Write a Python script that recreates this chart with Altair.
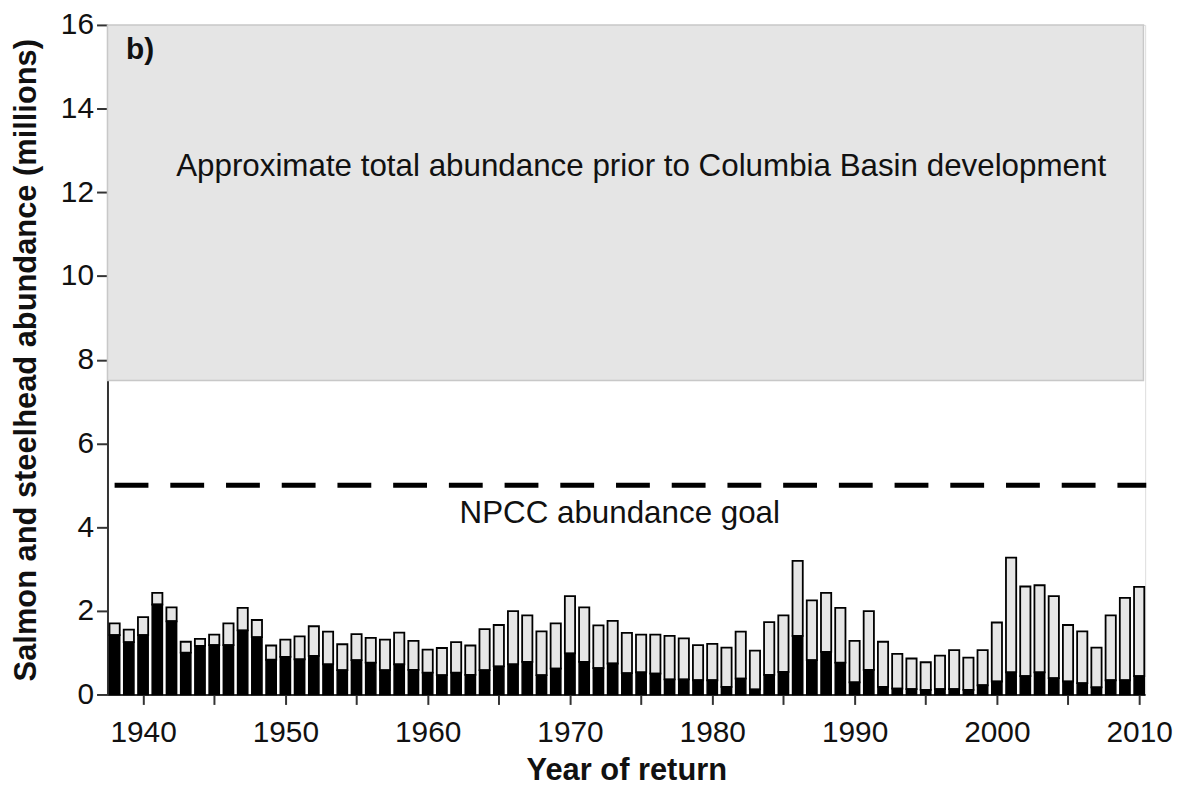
import altair as alt
import pandas as pd

years = list(range(1938, 2011))
total = [1.70, 1.55, 1.85, 2.43, 2.08, 1.26, 1.33, 1.43, 1.70, 2.07,
         1.78, 1.17, 1.31, 1.39, 1.63, 1.50, 1.20, 1.44, 1.35, 1.31,
         1.48, 1.28, 1.07, 1.11, 1.25, 1.17, 1.56, 1.66, 1.99, 1.89,
         1.51, 1.70, 2.35, 2.08, 1.65, 1.76, 1.47, 1.43, 1.43, 1.40,
         1.34, 1.18, 1.21, 1.12, 1.50, 1.05, 1.73, 1.89, 3.19, 2.25,
         2.43, 2.07, 1.28, 1.99, 1.26, 0.97, 0.86, 0.77, 0.93, 1.06,
         0.88, 1.06, 1.72, 3.27, 2.58, 2.61, 2.35, 1.66, 1.51, 1.12,
         1.89, 2.31, 2.57]
wild = [1.42, 1.25, 1.42, 2.15, 1.75, 1.00, 1.16, 1.18, 1.18, 1.53,
        1.37, 0.83, 0.90, 0.84, 0.92, 0.72, 0.58, 0.82, 0.76, 0.58,
        0.72, 0.59, 0.52, 0.46, 0.52, 0.47, 0.58, 0.67, 0.72, 0.78,
        0.46, 0.62, 0.98, 0.78, 0.63, 0.74, 0.51, 0.53, 0.50, 0.36,
        0.36, 0.34, 0.34, 0.18, 0.38, 0.12, 0.47, 0.54, 1.40, 0.82,
        1.02, 0.76, 0.29, 0.59, 0.18, 0.14, 0.13, 0.11, 0.13, 0.13,
        0.11, 0.22, 0.31, 0.53, 0.44, 0.53, 0.39, 0.31, 0.27, 0.17,
        0.34, 0.34, 0.44]

# historic abundance band and goal
band_year = [1937.5, 2010.3]
band_value = [7.5, 16.0]
goal_value = 5.0
goal_years = [1938.0, 2010.5]

x_domain = [1937.5, 2010.42]
y_domain = [0, 16]
x_ticks = list(range(1940, 2011, 5))
y_ticks = list(range(0, 17, 2))

FONT = "Liberation Sans"

df = pd.DataFrame({"year": years, "total": total, "wild": wild})

xscale = alt.Scale(domain=x_domain, nice=False, zero=False)
yscale = alt.Scale(domain=y_domain, nice=False)

xaxis = alt.Axis(values=x_ticks, format="d",
                 labelExpr="datum.value % 10 == 0 ? datum.label : ''",
                 title="Year of return", grid=False,
                 tickSize=10, tickWidth=2, tickColor="#333333",
                 domainColor="#333333", domainWidth=2,
                 labelFont=FONT, labelFontSize=30, labelColor="#111111",
                 labelPadding=13, labelOverlap=False, labelFlush=False,
                 titleFont=FONT, titleFontSize=31, titleFontWeight="bold",
                 titleColor="#111111", titlePadding=8)
yaxis = alt.Axis(values=y_ticks, title="Salmon and steelhead abundance (millions)",
                 grid=False, tickSize=11, tickWidth=2, tickColor="#333333",
                 domainColor="#333333", domainWidth=2,
                 labelFont=FONT, labelFontSize=30, labelColor="#111111",
                 labelPadding=3,
                 titleFont=FONT, titleFontSize=31, titleFontWeight="bold",
                 titleColor="#111111", titlePadding=18)

band_df = pd.DataFrame({"x0": [band_year[0]], "x1": [band_year[1]],
                        "y0": [band_value[0]], "y1": [band_value[1]]})
band = alt.Chart(band_df).mark_rect(fill="#e5e5e5", stroke="#c8c8c8", strokeWidth=1.5).encode(
    x=alt.X("x0:Q", scale=xscale, axis=xaxis),
    x2="x1:Q",
    y=alt.Y("y0:Q", scale=yscale, axis=yaxis),
    y2="y1:Q",
)

base = alt.Chart(df).transform_calculate(
    xa="datum.year - 0.36", xb="datum.year + 0.36"
)
wild_bars = base.mark_rect(fill="black", stroke="black", strokeWidth=1.5).encode(
    x=alt.X("xa:Q", scale=xscale, axis=xaxis),
    x2="xb:Q",
    y=alt.Y("wild:Q", scale=yscale, axis=yaxis),
    y2=alt.datum(0),
)
hatch_bars = base.mark_rect(fill="#e6e6e6", stroke="black", strokeWidth=1.8).encode(
    x=alt.X("xa:Q", scale=xscale, axis=xaxis),
    x2="xb:Q",
    y=alt.Y("wild:Q", scale=yscale, axis=yaxis),
    y2="total:Q",
)

goal_df = pd.DataFrame({"x0": [goal_years[0]], "x1": [goal_years[1]], "y": [goal_value]})
goal = alt.Chart(goal_df).mark_rule(color="black", strokeWidth=5, strokeDash=[34, 22]).encode(
    x=alt.X("x0:Q", scale=xscale, axis=xaxis),
    x2="x1:Q",
    y=alt.Y("y:Q", scale=yscale, axis=yaxis),
)

labels_df = pd.DataFrame({
    "x": [1975.0, 1973.5],
    "y": [12.6, 4.3],
    "text": ["Approximate total abundance prior to Columbia Basin development",
             "NPCC abundance goal"],
})
labels = alt.Chart(labels_df).mark_text(font=FONT, fontSize=31.5, color="#111111",
                                        baseline="middle", align="center").encode(
    x=alt.X("x:Q", scale=xscale, axis=xaxis),
    y=alt.Y("y:Q", scale=yscale, axis=yaxis),
    text="text:N",
)

panel_df = pd.DataFrame({"x": [1938.8], "y": [15.4], "text": ["b)"]})
panel = alt.Chart(panel_df).mark_text(font=FONT, fontSize=30, fontWeight="bold", color="#111111",
                                      baseline="middle", align="left").encode(
    x=alt.X("x:Q", scale=xscale, axis=xaxis),
    y=alt.Y("y:Q", scale=yscale, axis=yaxis),
    text="text:N",
)

chart = alt.layer(band, hatch_bars, wild_bars, goal, labels, panel).properties(
    width=1043, height=673,
    padding={"left": 2, "top": 0, "right": 0, "bottom": 0},
).configure_view(stroke=None).configure(background="white")

chart.save("out.html", embed_options={"renderer": "svg", "actions": False})
